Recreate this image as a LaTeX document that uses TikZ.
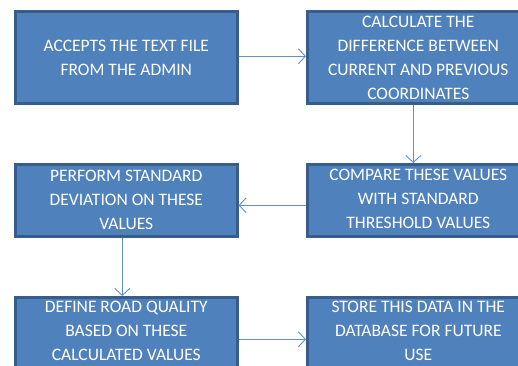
\documentclass[tikz,border=0pt]{standalone}
\usepackage{fontspec}
\setmainfont{Carlito}
\usetikzlibrary{arrows.meta}
\definecolor{boxfill}{HTML}{4F81BD}
\definecolor{boxline}{HTML}{385D8A}
\definecolor{arrowc}{HTML}{5F8FD0}
\tikzset{
  stepbox/.style={draw=boxline, line width=2.6pt, fill=boxfill, rectangle,
    minimum width=222pt, minimum height=#1, inner sep=0pt, anchor=north west},
  boxtext/.style={text=white, align=center, inner sep=0pt,
    font=\fontsize{17.5pt}{24pt}\selectfont},
  flow/.style={draw=arrowc, line width=0.9pt,
    -{Straight Barb[length=7pt,width=15pt,line width=0.9pt]}}
}
\begin{document}
\begin{tikzpicture}[x=1pt,y=-1pt]
\useasboundingbox (0,0) rectangle (518,365);
\node[stepbox=92pt] (b1) at (14,10) {};
\node[stepbox=92pt] (b2) at (306,10) {};
\node[stepbox=72pt] (b3) at (306,163) {};
\node[stepbox=72pt] (b4) at (14,163) {};
\node[stepbox=74pt] (b5) at (14,296) {};
\node[stepbox=74pt] (b6) at (306,296) {};
\node[boxtext] (t1) at ([yshift=-1pt]b1.center) {ACCEPTS THE TEXT FILE\\FROM THE ADMIN};
\node[boxtext] (t2) at ([yshift=-1pt]b2.center) {CALCULATE THE\\DIFFERENCE BETWEEN\\CURRENT AND PREVIOUS\\COORDINATES};
\node[boxtext] (t3) at ([yshift=1pt]b3.center) {COMPARE THESE VALUES\\WITH STANDARD\\THRESHOLD VALUES};
\node[boxtext] (t4) at (b4.center) {PERFORM STANDARD\\DEVIATION ON THESE\\VALUES};
\node[boxtext] (t5) at ([yshift=3pt]b5.center) {DEFINE ROAD QUALITY\\BASED ON THESE\\CALCULATED VALUES};
\node[boxtext] (t6) at ([yshift=3pt]b6.center) {STORE THIS DATA IN THE\\DATABASE FOR FUTURE\\USE};
\draw[flow] ([yshift=1pt]b1.east) -- ([yshift=1pt]b2.west);
\draw[flow] ([xshift=-5pt]b2.south) -- ([xshift=-5pt]b3.north);
\draw[flow] ([yshift=-5pt]b3.west) -- ([yshift=-5pt]b4.east);
\draw[flow] ([xshift=-4pt]b4.south) -- ([xshift=-4pt]b5.north);
\draw[flow] ([yshift=-5pt]b5.east) -- ([yshift=-5pt]b6.west);
\end{tikzpicture}
\end{document}
